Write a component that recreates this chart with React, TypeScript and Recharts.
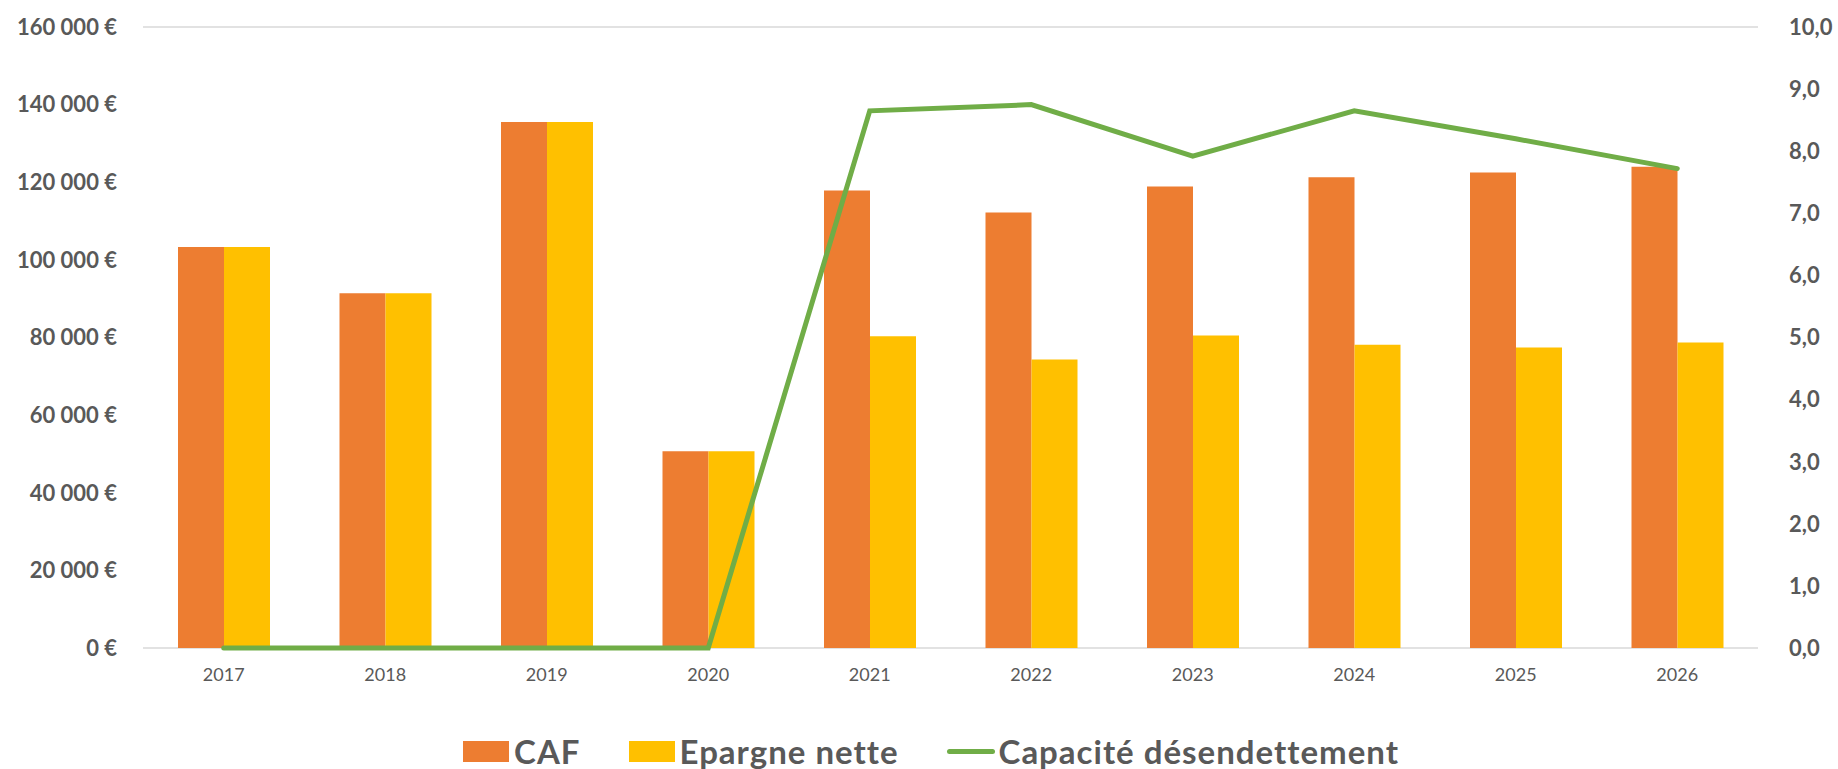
import { ComposedChart, Bar, Line, XAxis, YAxis, CartesianGrid, Legend } from 'recharts'

const years = ['2017', '2018', '2019', '2020', '2021', '2022', '2023', '2024', '2025', '2026']
const caf = [103300, 91400, 135500, 50700, 117900, 112200, 118900, 121300, 122500, 124000]
const epargneNette = [103300, 91400, 135500, 50700, 80300, 74300, 80500, 78100, 77400, 78700]
const capacite = [0, 0, 0, 0, 8.65, 8.75, 7.92, 8.65, 8.2, 7.72]
const leftTicks = [0, 20000, 40000, 60000, 80000, 100000, 120000, 140000, 160000]
const rightTicks = [0, 1, 2, 3, 4, 5, 6, 7, 8, 9, 10]
const legendOrder = ['CAF', 'Epargne nette', 'Capacité désendettement']

const data = years.map((year, i) => ({
  year,
  caf: caf[i],
  epargne: epargneNette[i],
  capacite: capacite[i],
}))

const FONT = 'Lato, "Open Sans", sans-serif'
const TEXT = '#595959'

const euro = (v: number) => String(v).replace(/\B(?=(\d{3})+(?!\d))/g, ' ') + ' €'
const ratio = (v: number) => v.toFixed(1).replace('.', ',')

function renderLegend(props: any) {
  const items = [...(props.payload || [])].sort(
    (a: any, b: any) => legendOrder.indexOf(a.value) - legendOrder.indexOf(b.value)
  )
  return (
    <div
      style={{
        height: 71,
        display: 'flex',
        justifyContent: 'center',
        alignItems: 'flex-end',
        paddingLeft: 24,
        boxSizing: 'border-box',
        fontFamily: FONT,
        fontWeight: 700,
        fontSize: 33,
        letterSpacing: 1,
        color: TEXT,
      }}
    >
      {items.map((item: any, i: number) => (
        <div key={i} style={{ display: 'flex', alignItems: 'center', marginRight: i < items.length - 1 ? 48 : 0 }}>
          {item.type === 'line' ? (
            <span style={{ width: 48, height: 5, borderRadius: 3, background: item.color, marginRight: 4 }} />
          ) : (
            <span style={{ width: 46, height: 21, background: item.color, marginRight: 5 }} />
          )}
          <span style={{ lineHeight: '36px' }}>{item.value}</span>
        </div>
      ))}
    </div>
  )
}

export default function App() {
  return (
    <div style={{ position: 'absolute', left: 0, top: 0, width: 1838, height: 769, background: '#fff' }}>
      <ComposedChart
        width={1838}
        height={769}
        data={data}
        margin={{ top: 27, right: 0, bottom: 0, left: 0 }}
        barGap={0}
      >
        <CartesianGrid vertical={false} stroke="#D9D9D9" strokeWidth={1.5} />
        <XAxis
          dataKey="year"
          height={50}
          axisLine={false}
          tickLine={false}
          tickSize={0}
          tickMargin={20}
          tick={{ fill: TEXT, fontSize: 18, fontFamily: FONT }}
        />
        <YAxis
          yAxisId="left"
          width={143}
          domain={[0, 160000]}
          ticks={leftTicks}
          tickFormatter={euro}
          axisLine={false}
          tickLine={false}
          tickSize={0}
          tickMargin={26}
          tick={{ fill: TEXT, fontSize: 22, fontWeight: 700, fontFamily: FONT }}
        />
        <YAxis
          yAxisId="right"
          orientation="right"
          width={80}
          domain={[0, 10]}
          ticks={rightTicks}
          tickFormatter={ratio}
          axisLine={false}
          tickLine={false}
          tickSize={0}
          tickMargin={31}
          tick={{ fill: TEXT, fontSize: 22, fontWeight: 700, fontFamily: FONT, textAnchor: 'start' }}
        />
        <Bar yAxisId="left" dataKey="caf" name="CAF" fill="#ED7D31" barSize={46} isAnimationActive={false} />
        <Bar yAxisId="left" dataKey="epargne" name="Epargne nette" fill="#FFC000" barSize={46} isAnimationActive={false} />
        <Line
          yAxisId="right"
          type="linear"
          dataKey="capacite"
          name="Capacité désendettement"
          stroke="#70AD47"
          strokeWidth={5}
          strokeLinecap="round"
          dot={false}
          activeDot={false}
          legendType="line"
          isAnimationActive={false}
        />
        <Legend verticalAlign="bottom" content={renderLegend} />
      </ComposedChart>
    </div>
  )
}
